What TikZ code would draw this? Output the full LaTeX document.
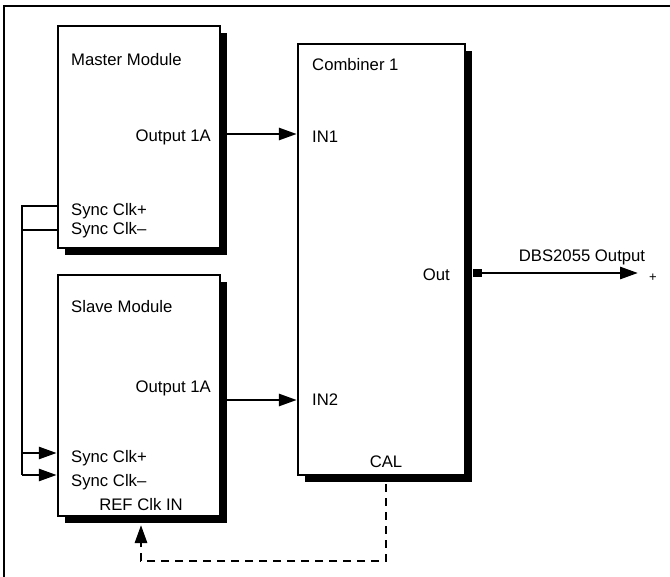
\documentclass[tikz,border=0pt]{standalone}
\usepackage{fontspec}
\setmainfont{Liberation Sans}
\usetikzlibrary{arrows.meta, positioning, shadows}

\begin{document}
\begin{tikzpicture}[x=1pt, y=-1pt, font=\fontsize{16.7}{19}\selectfont,
  b/.style={draw, line width=2pt, fill=white, inner sep=0, minimum width=162pt,
    drop shadow={shadow xshift=7pt, shadow yshift=-7pt, opacity=1, fill=black}},
  l/.style={inner sep=0},
  sig/.style={line width=2.8pt, -{Triangle[length=18pt, width=12pt]}},
  wire/.style={line width=2.6pt},
  dsig/.style={sig, dash pattern=on 8pt off 6pt}]
\useasboundingbox (0,0) rectangle (670,577);
\draw[line width=1.2pt] (4,577) -- (4,6) -- (670,6);
% modules
\node[b, minimum height=222pt] (master) at (138.75,137) {};
\node[b, minimum height=241pt] (slave) at (138.75,395.5) {};
\node[b, minimum width=167pt, minimum height=431pt] (comb) at (381.3,259.5) {};
\node[fill=black, inner sep=0, minimum width=9pt, minimum height=8pt] (oport) at (477,273) {};
% labels
\node[l, anchor=west] (mname) at (71,60) {Master Module};
\node[l, anchor=east] (mout) at (211,137) {Output 1A};
\node[l, anchor=west] (mclkp) at (71,211) {Sync Clk+};
\node[l, anchor=west] (mclkm) at (71,230) {Sync Clk–};
\node[l, anchor=west] (sname) at (71,307) {Slave Module};
\node[l, anchor=east] (sout) at (211,388) {Output 1A};
\node[l, anchor=west] (sclkp) at (71,458) {Sync Clk+};
\node[l, anchor=west] (sclkm) at (71,482) {Sync Clk–};
\node[l] (refin) at (141,505) {REF Clk IN};
\node[l, anchor=west] (cname) at (312,65) {Combiner 1};
\node[l, anchor=west] (in1) at (312,137) {IN1};
\node[l, anchor=west] (in2) at (312,400) {IN2};
\node[l, anchor=east] (cout) at (450,275) {Out};
\node[l] (cal) at (386,462) {CAL};
\node[l] (dbs) at (582,257) {DBS2055 Output};
\coordinate (otip) at (638,273);
\node[l, font=\fontsize{13}{15}\selectfont] (plus) at (653,278) {+};
\coordinate (bus) at (22,206);
% connections
\draw[sig] ([yshift=3pt]master.east |- in1) -- ([yshift=3pt]comb.west |- in1);
\draw[sig] (slave.east |- in2) -- (comb.west |- in2);
\draw[sig] (oport.east) -- (otip);
\draw[wire] ([yshift=5pt]master.west |- mclkp) -| ([yshift=7pt]bus |- sclkm);
\draw[wire] (master.west |- mclkm) -- (bus |- mclkm);
\draw[sig] ([yshift=5pt]bus |- sclkp) -- ([yshift=5pt]slave.west |- sclkp);
\draw[sig] ([yshift=7pt]bus |- sclkm) -- ([yshift=7pt]slave.west |- sclkm);
\draw[dsig] ([yshift=-8pt]comb.south -| cal) -- ++(0,77) -| ([yshift=-8pt]slave.south -| refin);
\end{tikzpicture}
\end{document}
